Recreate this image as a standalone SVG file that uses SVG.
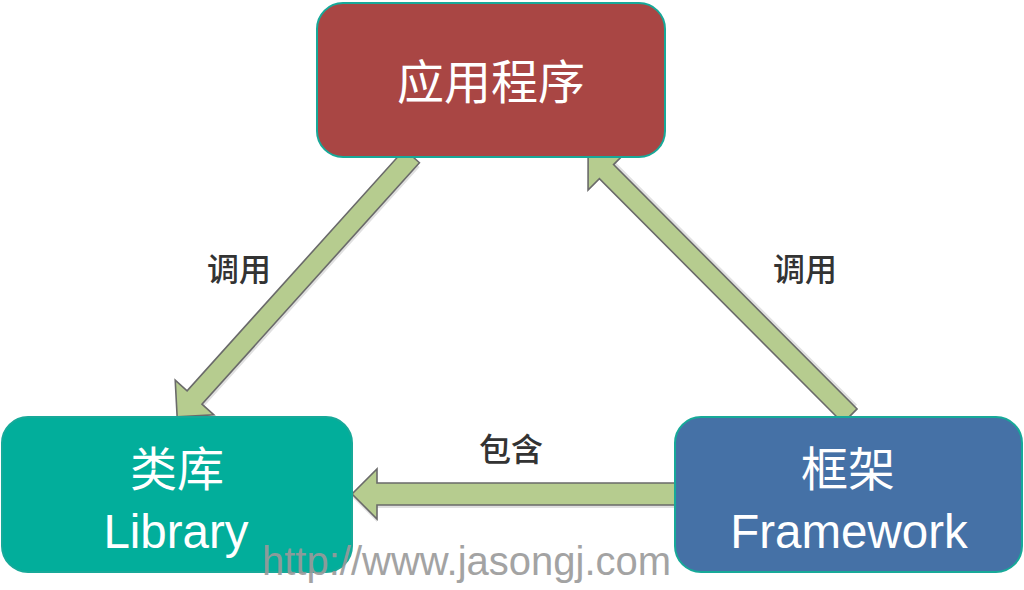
<svg xmlns="http://www.w3.org/2000/svg" width="1024" height="590" viewBox="0 0 1024 590">
<defs>
<style>
.box{stroke:#17a999;stroke-width:2}
.arrow{fill:#b6cc8f;stroke:#6a6a6a;stroke-width:1.6;stroke-linejoin:miter}
.shadow{fill:#000;opacity:0.12}
.node{font-family:"Liberation Sans","Noto Sans CJK SC",sans-serif;fill:#fff;text-anchor:middle}
.lbl{font-family:"Liberation Sans","Noto Sans CJK SC",sans-serif;fill:#333;font-size:32px;font-weight:500;text-anchor:middle}
.wm{font-family:"Liberation Sans",sans-serif;font-size:40px;fill:#9a9a9a;opacity:0.9}
</style>
</defs>
<rect width="1024" height="590" fill="#fff"/>
<g id="connectors">
<g transform="translate(412,156) rotate(132)">
<polygon class="shadow" transform="translate(3,-3)" points="0,-10 325,-10 325,-26 351,0 325,26 325,10 0,10"/>
<polygon class="arrow" points="0,-10 325,-10 325,-26 351,0 325,26 325,10 0,10"/>
</g>
<g transform="translate(850,416) rotate(-134.9)">
<polygon class="shadow" transform="translate(3,3)" points="0,-10 345,-10 345,-26 371,0 345,26 345,10 0,10"/>
<polygon class="arrow" points="0,-10 345,-10 345,-26 371,0 345,26 345,10 0,10"/>
</g>
<g transform="translate(680,494) rotate(180)">
<polygon class="shadow" transform="translate(0,-3)" points="0,-11 303,-11 303,-25 328,0 303,25 303,11 0,11"/>
<polygon class="arrow" points="0,-11 303,-11 303,-25 328,0 303,25 303,11 0,11"/>
</g>
<text class="lbl" x="239" y="281">调用</text>
<text class="lbl" x="805" y="281">调用</text>
<text class="lbl" x="511" y="461">包含</text>
</g>
<g id="app">
<rect class="box" x="317" y="3" width="348" height="154" rx="26" fill="#a94644"/>
<text class="node" x="491" y="99" font-size="47">应用程序</text>
</g>
<g id="library">
<rect class="box" x="2" y="417" width="350" height="155" rx="26" fill="#02ae9b"/>
<text class="node" x="177" y="486" font-size="47">类库</text>
<text class="node" x="176" y="548" font-size="47.5">Library</text>
</g>
<g id="framework">
<rect class="box" x="675" y="417" width="347" height="155" rx="26" fill="#4571a6"/>
<text class="node" x="848" y="486" font-size="47">框架</text>
<text class="node" x="849" y="548" font-size="47.5">Framework</text>
</g>
<text class="wm" x="262" y="575">http://www.jasongj.com</text>
</svg>
